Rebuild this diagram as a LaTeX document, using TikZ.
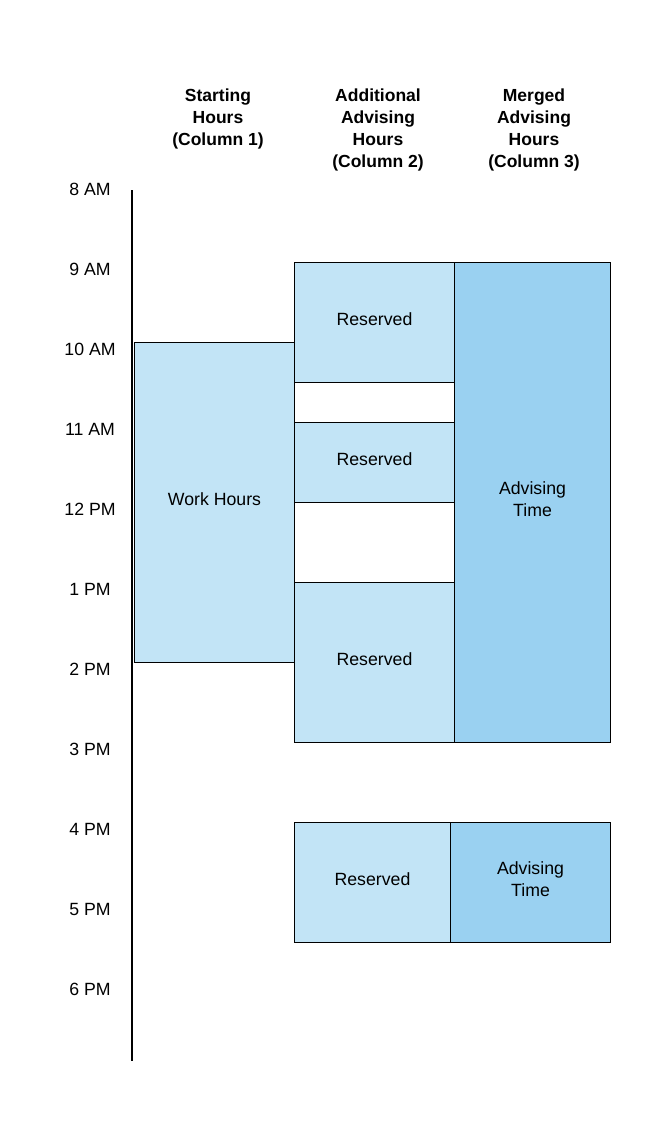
\documentclass[tikz,border=0pt]{standalone}
\usepackage{fontspec}
\setmainfont{Liberation Sans}
\definecolor{lightslot}{RGB}{194,228,246}
\definecolor{darkslot}{RGB}{154,209,241}
\begin{document}
\begin{tikzpicture}[x=1pt,y=-1pt,
  slot/.style={draw=black, line width=1pt, inner sep=0pt, outer sep=0pt},
  reserved/.style={slot, fill=lightslot},
  advising/.style={slot, fill=darkslot},
  emptyslot/.style={slot, fill=white},
  slottext/.style={align=center, inner sep=0pt, yshift=3pt,
    font=\fontsize{17.7}{22}\selectfont},
  hourlabel/.style={font=\fontsize{17.7}{22}\selectfont, inner sep=0pt, anchor=center},
  header/.style={font=\bfseries\fontsize{17.5}{22}\selectfont, align=center, inner sep=0pt, anchor=north}]
  \useasboundingbox (0,0) rectangle (660,1124);
  \fill[white] (0,0) rectangle (660,1124);

  % column headers
  \node[header] (h1) at (218,89) {Starting\\Hours\\(Column 1)};
  \node[header] (h2) at (378,89) {Additional\\Advising\\Hours\\(Column 2)};
  \node[header] (h3) at (534,89) {Merged\\Advising\\Hours\\(Column 3)};

  % time axis
  \coordinate (axtop) at (132,190);
  \coordinate (axbot) at (132,1061);
  \draw[line width=2pt] (axtop) -- (axbot);

  % hour labels
  \foreach \lab [count=\i from 0] in {8 AM,9 AM,10 AM,11 AM,12 PM,1 PM,2 PM,3 PM,4 PM,5 PM,6 PM}
    \node[hourlabel] (t\i) at (90,{189+80*\i}) {\lab};

  % column 1: work hours 10 AM -- 2 PM
  \node[reserved, minimum width=160pt, minimum height=320pt,
    label={[slottext]center:Work Hours}] (work) at (214.5,502) {};

  % column 2: reserved and free blocks
  \node[reserved, minimum width=160pt, minimum height=120pt,
    label={[slottext]center:Reserved}] (r1) at (374.5,322) {};
  \node[emptyslot, minimum width=160pt, minimum height=40pt] (e1) at (374.5,402) {};
  \node[reserved, minimum width=160pt, minimum height=80pt,
    label={[slottext]center:Reserved}] (r2) at (374.5,462) {};
  \node[emptyslot, minimum width=160pt, minimum height=80pt] (e2) at (374.5,542) {};
  \node[reserved, minimum width=160pt, minimum height=160pt,
    label={[slottext]center:Reserved}] (r3) at (374.5,662) {};

  % column 3: merged advising time
  \node[advising, minimum width=156pt, minimum height=480pt,
    label={[slottext]center:Advising\\Time}] (a1) at (532.5,502) {};

  % afternoon block
  \node[reserved, minimum width=156pt, minimum height=120pt,
    label={[slottext]center:Reserved}] (r4) at (372.5,882) {};
  \node[advising, minimum width=160pt, minimum height=120pt,
    label={[slottext]center:Advising\\Time}] (a2) at (530.5,882) {};
\end{tikzpicture}
\end{document}
